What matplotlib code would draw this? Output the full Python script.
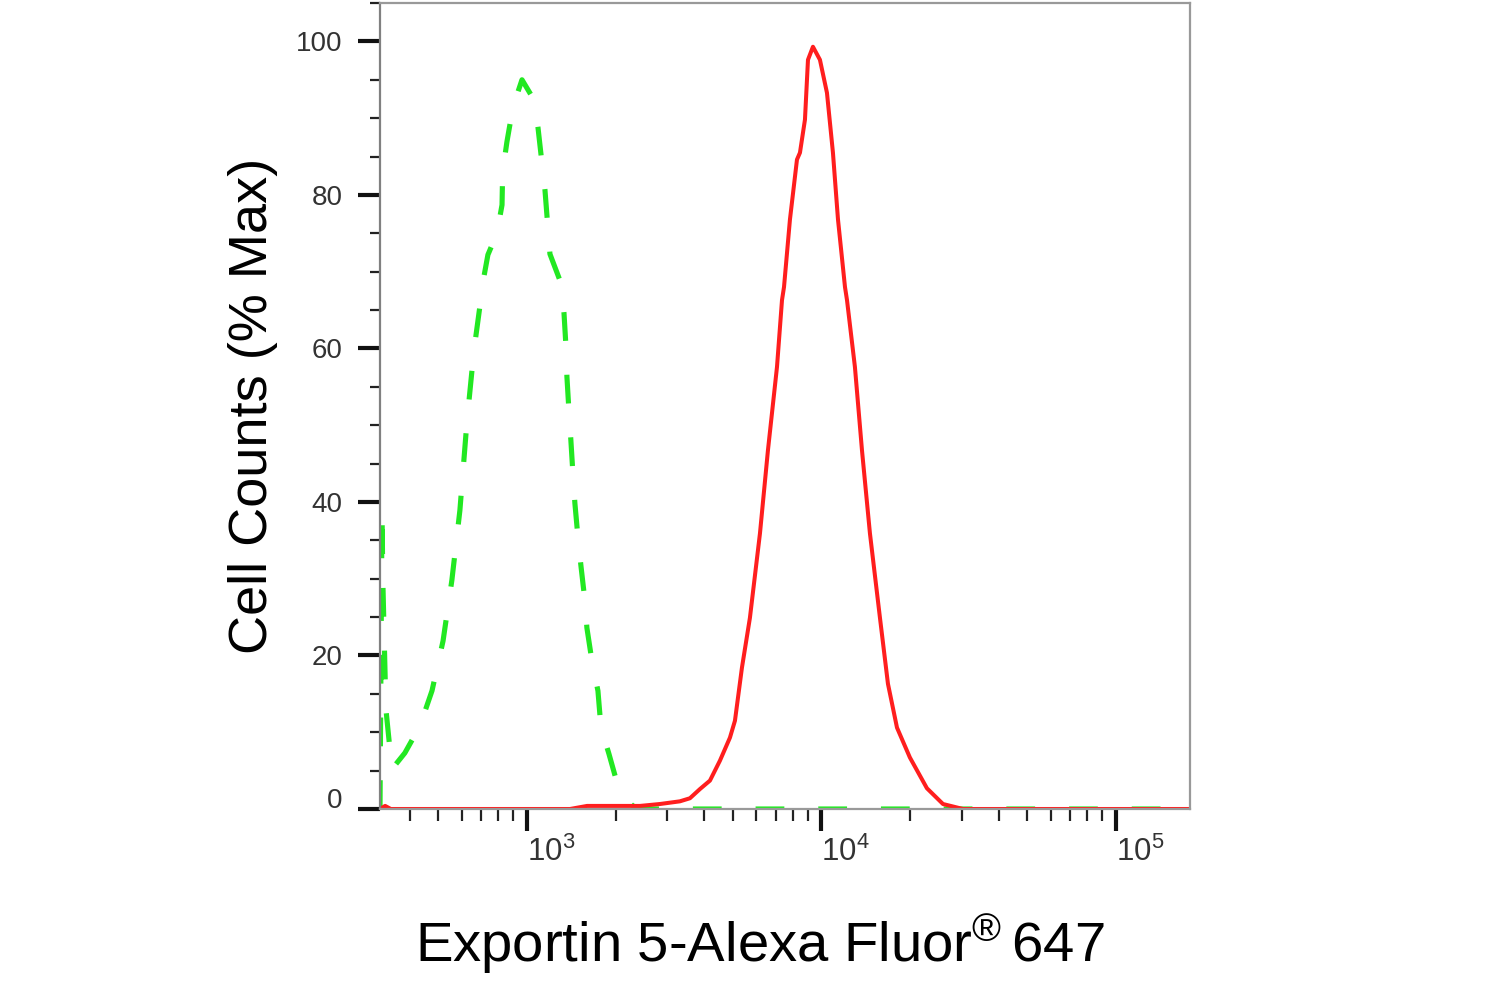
import matplotlib
matplotlib.use("Agg")
import matplotlib.pyplot as plt
import matplotlib.transforms as mtransforms
from matplotlib.ticker import LogLocator, NullFormatter, FixedLocator

plt.rcParams['font.family'] = ['Liberation Sans', 'DejaVu Sans']
plt.rcParams['mathtext.fontset'] = 'custom'
plt.rcParams['mathtext.rm'] = 'Liberation Sans'
plt.rcParams['mathtext.default'] = 'regular'

# isotype control (green dashed)
green_x = [317, 322, 324, 332, 348, 385, 433, 476, 519, 556, 592, 626, 661, 714,
           737, 791, 823, 827, 855, 897, 962, 1056, 1090, 1151, 1197, 1305, 1336,
           1357, 1367, 1388, 1410, 1433, 1455, 1490, 1525, 1573, 1598, 1662, 1742,
           1784, 1898, 2037, 2151, 2291, 2420, 178400]
green_y = [0, 38.9, 30, 13, 5.2, 7.3, 10.8, 15.4, 21.9, 29.8, 38.9, 50.6, 59.8, 69.3,
           72.2, 75.0, 78.7, 83.0, 86.9, 91.5, 95.0, 92.4, 88.8, 80.7, 72.3, 68.5, 64.6,
           60.2, 56.3, 52.0, 48.0, 43.6, 39.8, 35.4, 31.7, 27.2, 23.6, 19.3, 15.4,
           10.6, 7.2, 3.0, 1.3, 0.4, 0, 0]

# Exportin 5 stained sample (red solid)
red_x = [317, 330, 345, 1400, 1600, 2420, 2829, 3307, 3576, 3868, 4182, 4522, 4890,
         5085, 5370, 5716, 6183, 6580, 7064, 7346, 7462, 7817, 8258, 8453, 8790, 9000,
         9357, 9883, 10440, 10940, 11380, 12020, 12210, 12990, 13730, 14610, 15800,
         16820, 18050, 19970, 22810, 25860, 30240, 178400]
red_y = [0, 0.4, 0, 0, 0.4, 0.4, 0.65, 1.0, 1.4, 2.6, 3.7, 6.3, 9.3,
         11.5, 18.4, 24.9, 35.9, 46.7, 57.6, 66.3, 68.0, 76.8, 84.6, 85.5, 89.8, 97.6,
         99.3, 97.6, 93.3, 85.5, 76.8, 68.0, 66.3, 57.6, 46.7, 35.9, 24.9,
         16.3, 10.6, 6.7, 2.7, 0.65, 0, 0]

y_major = [0, 20, 40, 60, 80, 100]
y_minor = list(range(0, 106, 5))
x_lim = (317, 178400)
y_lim = (0, 105)

fig = plt.figure(figsize=(14.86, 9.81), dpi=100)
ax = fig.add_axes([380 / 1486, 1 - 809 / 981, 810 / 1486, 806 / 981])

ax.plot(green_x, green_y, color='#22e822', lw=3.7, dashes=(5.6, 6.6))
ax.plot(red_x, red_y, color='#ff1e1e', lw=2.9)

ax.set_xscale('log')
ax.set_xlim(*x_lim)
ax.set_ylim(*y_lim)

ax.xaxis.set_major_locator(LogLocator(base=10))
ax.xaxis.set_minor_locator(LogLocator(base=10, subs=range(2, 10)))
ax.xaxis.set_minor_formatter(NullFormatter())
ax.yaxis.set_major_locator(FixedLocator(y_major))
ax.yaxis.set_minor_locator(FixedLocator(y_minor))

for side in ['left', 'bottom', 'top', 'right']:
    ax.spines[side].set_color('#999999')
    ax.spines[side].set_linewidth(1.6)
ax.spines['left'].set_color('#808080')

ax.tick_params(which='major', direction='out', length=16, width=3,
               color='#111111', labelsize=20, labelcolor='#333333')
ax.tick_params(axis='y', which='major', pad=11)
ax.tick_params(axis='x', which='major', pad=4, labelsize=22.5)
ax.tick_params(axis='y', which='minor', direction='out', length=7, width=1.6, color='#222222')
ax.tick_params(axis='x', which='minor', direction='out', length=8.5, width=1.6, color='#222222')

for lab in ax.get_xticklabels():
    lab.set_horizontalalignment('left')

# the "0" label sits a little above its tick
zero_tick = ax.yaxis.get_major_ticks()[0]
zero_tick.label1.set_transform(zero_tick.label1.get_transform() +
                               mtransforms.ScaledTranslation(0, 11 / 100, fig.dpi_scale_trans))

ax.set_ylabel('Cell Counts (% Max)', fontsize=39, color='black', labelpad=13)
fig.text(760 / 1486, 1 - 962 / 981, r'Exportin 5-Alexa Fluor$^{®}\,$647',
         fontsize=40.5, ha='center', va='baseline', color='black')

fig.savefig('out.png', dpi=100, facecolor='white')
